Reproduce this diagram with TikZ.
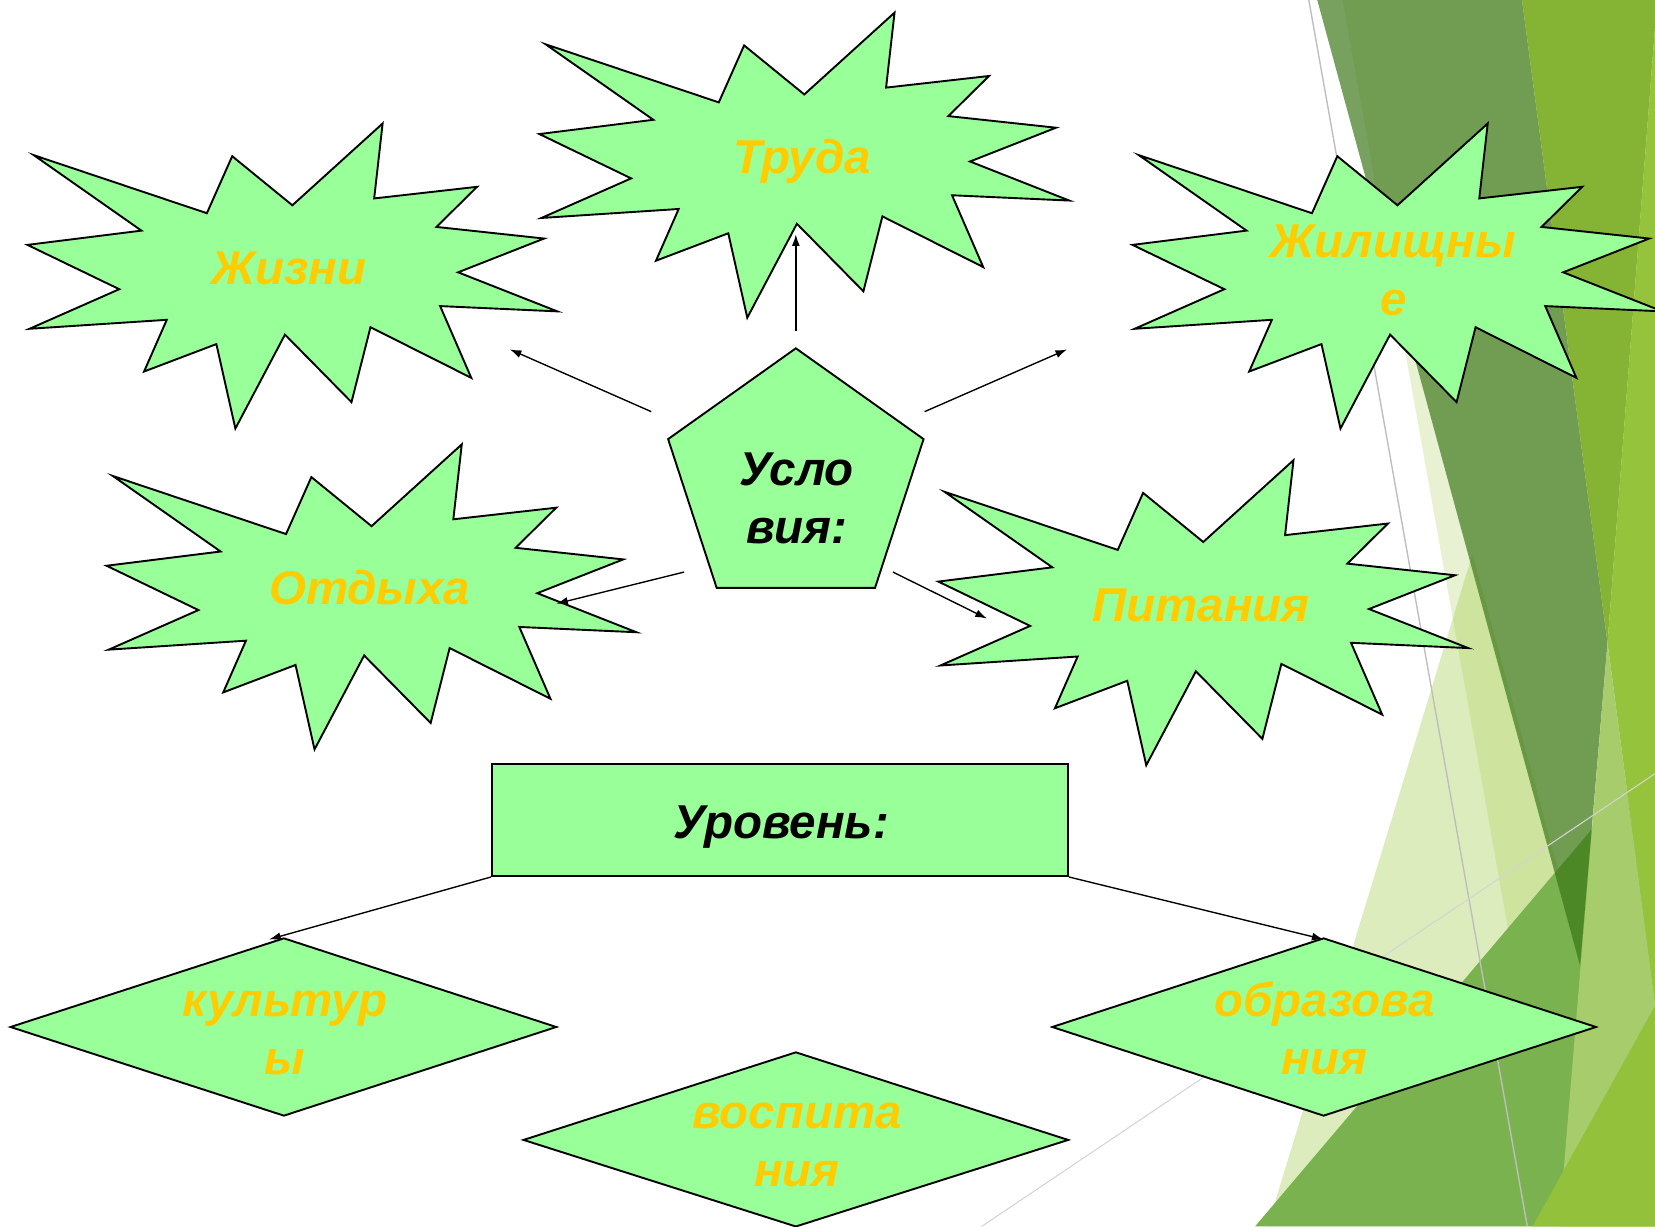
\documentclass[tikz,border=0pt]{standalone}
\usepackage{fontspec}
\setmainfont{Liberation Sans}
\usetikzlibrary{arrows.meta}
\definecolor{shapefill}{RGB}{153,255,153}
\definecolor{gold}{RGB}{255,204,0}
\definecolor{facetA}{RGB}{144,194,38}
\definecolor{facetR}{RGB}{122,178,80}
\definecolor{facetX}{RGB}{57,117,21}
\definecolor{facetZ}{RGB}{133,179,52}
\definecolor{facetW}{RGB}{149,196,60}
\definecolor{facetV}{RGB}{166,204,107}
\definecolor{facetT}{RGB}{147,193,59}
\definecolor{lineA}{RGB}{190,190,190}
\definecolor{lineB}{RGB}{212,212,212}
\begin{document}
\begin{tikzpicture}[x=1pt,y=-1pt,
  shapestyle/.style={draw=black,fill=shapefill,line width=1.8pt,line join=miter},
  goldtext/.style={text=gold,font=\fontsize{45}{55}\selectfont\bfseries\itshape,align=center,inner sep=0pt},
  blacktext/.style={text=black,font=\fontsize{45}{55}\selectfont\bfseries\itshape,align=center,inner sep=0pt},
  conn/.style={-{Latex[length=11pt,width=7.5pt]},line width=1.3pt},
  burstpic/.pic={\draw[shapestyle] (32,147) -- (196,202) -- (220,148) -- (277,194.5) -- (362.5,117) -- (354.5,188) -- (452,177) -- (413.5,215) -- (515.5,226) -- (434,258) -- (528,295) -- (417,290) -- (446.5,358) -- (351,310) -- (333,381) -- (270,317) -- (223,406) -- (205,326) -- (136.5,352) -- (158,303) -- (28,311.5) -- (113,274) -- (26,232) -- (134,218.5) -- cycle;}
]
\useasboundingbox (0,0) rectangle (1568,1162);
\clip (0,0) rectangle (1568,1162);
\fill[white] (0,0) rectangle (1568,1162);
% background facets
\fill[facetA,opacity=0.2] (1272,0) -- (1568,0) -- (1568,1162) -- (1479,1162) -- cycle;
\fill[facetA,opacity=0.3] (1395,525) -- (1201,1162) -- (1568,1162) -- cycle;
\fill[facetR] (1189,1162) -- (1568,715) -- (1568,1162) -- cycle;
\fill[facetX,opacity=0.68] (1248,0) -- (1442,0) -- (1523,609) -- (1497,915) -- cycle;
\fill[facetZ] (1442,0) -- (1570,0) -- (1523,609) -- cycle;
\fill[facetW] (1570,0) -- (1523,609) -- (1568,950) -- (1568,0) -- cycle;
\fill[facetV] (1523,609) -- (1568,950) -- (1568,1162) -- (1477,1162) -- cycle;
\fill[facetT] (1568,953) -- (1452,1162) -- (1568,1162) -- cycle;
\draw[lineA,line width=1.3pt] (1240,0) -- (1447,1162);
\draw[lineB,line width=1pt] (930,1162) -- (1568,733);
% starbursts
\pic at (0,0) {burstpic};
\pic at (485,-105) {burstpic};
\pic at (1047,0) {burstpic};
\pic at (75,304) {burstpic};
\pic at (863,319) {burstpic};
\node[goldtext,anchor=base] (zhizni) at (274,270) {Жизни};
\node[goldtext,anchor=base] (truda) at (760,164) {Труда};
\node[goldtext] (zhil) at (1320,256) {Жилищны\\е};
\node[goldtext,anchor=base] (otdykh) at (350,573) {Отдыха};
\node[goldtext,anchor=base] (pitan) at (1138,589) {Питания};
% pentagon
\draw[shapestyle] (754,330) -- (875,416) -- (829,557) -- (679,557) -- (633,416) -- cycle;
\node[blacktext] (uslov) at (755,472) {Усло\\вия:};
% level box
\node[draw=black,fill=shapefill,line width=1.8pt,minimum width=546pt,minimum height=106pt,inner sep=0pt] (level) at (739,777) {};
\node[blacktext,anchor=base] (leveltxt) at (740,794) {Уровень:};
% diamonds
\draw[shapestyle] (10,973) -- (269,889) -- (527,973) -- (269,1057) -- cycle;
\draw[shapestyle] (496,1080) -- (754,997) -- (1012,1080) -- (754,1162) -- cycle;
\draw[shapestyle] (997,973) -- (1254,889) -- (1512,973) -- (1254,1057) -- cycle;
\node[goldtext] (kult) at (270,979) {культур\\ы};
\node[goldtext] (vosp) at (755,1085) {воспита\\ния};
\node[goldtext] (obraz) at (1255,974) {образова\\ния};
% connectors
\coordinate (s1) at (754,314); \coordinate (e1) at (754,222);
\coordinate (s2) at (617,390); \coordinate (e2) at (483,331);
\coordinate (s3) at (876,390); \coordinate (e3) at (1011,331);
\coordinate (s4) at (648,542); \coordinate (e4) at (527,572);
\coordinate (s5) at (846,542); \coordinate (e5) at (935,586);
\coordinate (e6) at (255,890);
\coordinate (e7) at (1254,890);
\draw[conn] (s1) -- (e1);
\draw[conn] (s2) -- (e2);
\draw[conn] (s3) -- (e3);
\draw[conn] (s4) -- (e4);
\draw[conn] (s5) -- (e5);
\draw[conn] (level.south west) -- (e6);
\draw[conn] (level.south east) -- (e7);
\end{tikzpicture}
\end{document}
